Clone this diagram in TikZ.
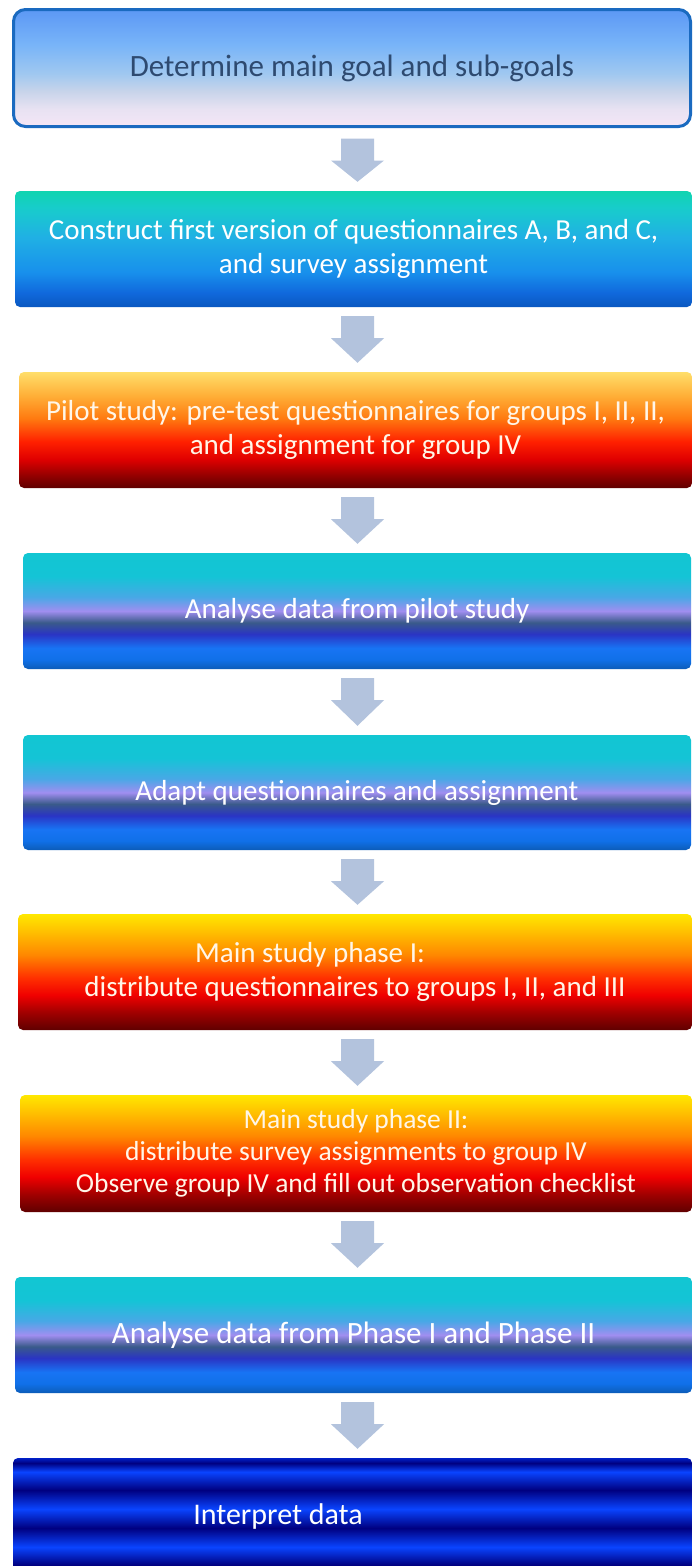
\documentclass[tikz,border=0pt]{standalone}
\usepackage{fontspec}
\setmainfont{Carlito}
\usetikzlibrary{calc}

% colours
\definecolor{arrowc}{HTML}{B3C3DD}
\definecolor{oneborder}{HTML}{1A6AC0}
\definecolor{onetext}{HTML}{2E4A70}
\definecolor{firetext}{HTML}{FFF6E8}
% box 1
\definecolor{pA}{HTML}{5C98F5}\definecolor{pB}{HTML}{78B4F8}\definecolor{pC}{HTML}{A0C8F0}
\definecolor{pD}{HTML}{C8D4EA}\definecolor{pE}{HTML}{E8E2F2}\definecolor{pF}{HTML}{F4E6F6}
% box 2
\definecolor{qA}{HTML}{10D4B0}\definecolor{qB}{HTML}{18CCCC}\definecolor{qC}{HTML}{20B0E4}
\definecolor{qD}{HTML}{1890EC}\definecolor{qE}{HTML}{1068DC}\definecolor{qF}{HTML}{0A58C0}
% box 3
\definecolor{rA}{HTML}{FFDE6A}\definecolor{rB}{HTML}{FFB038}\definecolor{rC}{HTML}{FF7A10}
\definecolor{rD}{HTML}{FF2000}\definecolor{rE}{HTML}{E00000}\definecolor{rF}{HTML}{900000}
\definecolor{rG}{HTML}{600000}
% fire boxes
\definecolor{fA}{HTML}{FFE800}\definecolor{fB}{HTML}{FFC000}\definecolor{fC}{HTML}{FF8800}
\definecolor{fD}{HTML}{FF3000}\definecolor{fE}{HTML}{F00000}\definecolor{fF}{HTML}{A00000}
\definecolor{fG}{HTML}{600000}
% sea boxes
\definecolor{sA}{HTML}{12C6D2}\definecolor{sB}{HTML}{14C4D6}\definecolor{sC}{HTML}{48A8E6}
\definecolor{sD}{HTML}{A08EF0}\definecolor{sE}{HTML}{3A5A8A}\definecolor{sF}{HTML}{2A34C4}
\definecolor{sG}{HTML}{1874F4}\definecolor{sH}{HTML}{1070E8}\definecolor{sI}{HTML}{0C5CB8}
% stripes
\definecolor{tA}{HTML}{0A44FF}\definecolor{tB}{HTML}{000080}\definecolor{tC}{HTML}{0020C8}
\definecolor{tD}{HTML}{0A30E0}

\pgfdeclareverticalshading{shOne}{100bp}{color(0bp)=(pF); color(25bp)=(pF); color(32.5bp)=(pE); color(40bp)=(pD); color(47.5bp)=(pC); color(60bp)=(pB); color(75bp)=(pA); color(100bp)=(pA)}
\pgfdeclareverticalshading{shTwo}{100bp}{color(0bp)=(qF); color(25bp)=(qF); color(31bp)=(qE); color(40bp)=(qD); color(55bp)=(qC); color(67.5bp)=(qB); color(75bp)=(qA); color(100bp)=(qA)}
\pgfdeclareverticalshading{shThree}{100bp}{color(0bp)=(rG); color(25bp)=(rG); color(30bp)=(rF); color(37.5bp)=(rE); color(45bp)=(rD); color(55bp)=(rC); color(65bp)=(rB); color(75bp)=(rA); color(100bp)=(rA)}
\pgfdeclareverticalshading{shFire}{100bp}{color(0bp)=(fG); color(25bp)=(fG); color(32.5bp)=(fF); color(40bp)=(fE); color(47.5bp)=(fD); color(57.5bp)=(fC); color(67.5bp)=(fB); color(75bp)=(fA); color(100bp)=(fA)}
\pgfdeclareverticalshading{shSea}{100bp}{color(0bp)=(sI); color(25bp)=(sI); color(29bp)=(sH); color(34bp)=(sG); color(40bp)=(sF); color(45bp)=(sE); color(50bp)=(sD); color(56bp)=(sC); color(65bp)=(sB); color(75bp)=(sA); color(100bp)=(sA)}
\pgfdeclareverticalshading{shStripe}{100bp}{color(0bp)=(tD); color(25bp)=(tD); color(28.9bp)=(tB); color(36.6bp)=(tA); color(44.8bp)=(tB); color(53bp)=(tA); color(61.2bp)=(tB); color(69bp)=(tA); color(72.8bp)=(tB); color(75bp)=(tC); color(100bp)=(tC)}

\tikzset{
  flowbox/.style={rectangle, rounded corners=5pt, inner sep=0pt, align=center,
    text=white, font=\fontsize{29}{34}\selectfont},
  boxone/.style={flowbox, rounded corners=12pt, draw=oneborder, line width=3pt,
    shading=shOne, text=onetext, font=\fontsize{31}{36}\selectfont},
  boxtwo/.style={flowbox, shading=shTwo},
  boxred/.style={flowbox, shading=shThree, text=firetext},
  boxfire/.style={flowbox, shading=shFire, text=firetext},
  boxsea/.style={flowbox, shading=shSea},
  boxstripe/.style={flowbox, shading=shStripe},
  blockarrow/.style={fill=arrowc}
}

\begin{document}
\begin{tikzpicture}[x=1pt,y=-1pt]
\useasboundingbox (0,0) rectangle (693,1566);
\fill[white] (0,0) rectangle (693,1566);

\node[boxone, minimum width=677pt, minimum height=117pt] (b1) at (352,68)
  {Determine main goal and sub-goals};
\node[boxtwo, minimum width=677pt, minimum height=116pt] (b2) at (353.5,249)
  {Construct first version of questionnaires A, B, and C,\\and survey assignment};
\node[boxred, minimum width=673pt, minimum height=116pt] (b3) at (355.5,430)
  {Pilot study: pre-test questionnaires for groups I, II, II,\\and assignment for group IV};
\node[boxsea, minimum width=668pt, minimum height=116pt] (b4) at (357,611)
  {Analyse data from pilot study};
\node[boxsea, minimum width=668pt, minimum height=115pt] (b5) at (357,792.5)
  {Adapt questionnaires and assignment};
\node[boxfire, minimum width=674pt, minimum height=116pt] (b6) at (355,972)
  {Main study phase I:\hspace*{90pt}\\distribute questionnaires to groups I, II, and III};
\node[boxfire, minimum width=672pt, minimum height=117pt, font=\fontsize{27.5}{32}\selectfont] (b7) at (356,1153.5)
  {Main study phase II:\\distribute survey assignments to group IV\\Observe group IV and fill out observation checklist};
\node[boxsea, minimum width=677pt, minimum height=116pt, font=\fontsize{31}{36}\selectfont] (b8) at (353.5,1335)
  {Analyse data from Phase I and Phase II};
\node[boxstripe, minimum width=679pt, minimum height=116pt, font=\fontsize{30}{36}\selectfont] (b9) at (352.5,1516)
  {Interpret data\hspace*{149pt}};

\coordinate (ax) at (357.5,0);
\foreach \a/\b/\g in {b1/b2/10.5,b2/b3/9,b3/b4/9,b4/b5/9,b5/b6/9,b6/b7/9,b7/b8/9,b8/b9/9}{
  \path (\a.south -| ax) coordinate (s) (\b.north -| ax) coordinate (e);
  \fill[blockarrow]
    ($(s)+(-16.5,\g)$) -- ($(s)+(16.5,\g)$) -- ($(s)+(16.5,\g+22)$) -- ($(s)+(26.5,\g+22)$)
    -- ($(e)+(0,-9)$) -- ($(s)+(-26.5,\g+22)$) -- ($(s)+(-16.5,\g+22)$) -- cycle;
}
\end{tikzpicture}
\end{document}
